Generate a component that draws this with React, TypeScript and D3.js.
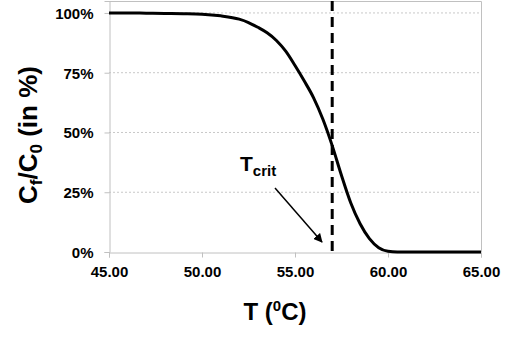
import { useEffect, useRef } from 'react';
import * as d3 from 'd3';

// temperature (°C) and remaining fraction Cf/C0 (%)
const temps = [45, 46, 47, 48, 49, 50, 51, 52, 52.5, 53, 53.5, 54, 54.5, 55, 55.5, 56, 56.5, 57, 57.5, 58, 58.5, 59, 59.5, 60, 60.5, 61, 62, 63, 64, 65];
const ratios = [100, 100, 99.9, 99.8, 99.7, 99.5, 98.8, 97.4, 96, 94, 91.7, 88.5, 84, 78, 71.5, 64.5, 55.5, 44.5, 32, 20.5, 11.8, 5.6, 1.8, 0.3, 0, 0, 0, 0, 0, 0];
const xTicks = [45, 50, 55, 60, 65];
const yTicks = [0, 25, 50, 75, 100];
const tCrit = 57;

const FONT = "'Liberation Sans', Arial, sans-serif";

const App: any = () => {
  const svgRef = useRef<any>(null);

  useEffect(() => {
    const svg = d3.select(svgRef.current);
    svg.selectAll('*').remove();

    const left = 109, right = 481, top = 1, bottom = 252;

    const x = d3.scaleLinear().domain([45, 65]).range([left, right]);
    const y = d3.scaleLinear().domain([0, 105]).range([bottom, top]);

    // gridlines
    svg.append('g')
      .selectAll('line')
      .data(yTicks.filter(d => d > 0))
      .join('line')
      .attr('x1', left).attr('x2', right)
      .attr('y1', d => y(d)).attr('y2', d => y(d))
      .attr('stroke', '#c8c8c8')
      .attr('stroke-width', 1)
      .attr('stroke-dasharray', '2,2');

    // frame top/right
    svg.append('path')
      .attr('d', `M${left},${top + 0.5}H${right + 0.5}V${bottom}`)
      .attr('fill', 'none')
      .attr('stroke', '#c0c0c0');

    // axes
    const xAxis = svg.append('g')
      .attr('transform', `translate(0,${bottom + 0.5})`)
      .call(d3.axisBottom(x).tickValues(xTicks).tickSize(5).tickPadding(9).tickFormat(d3.format('.2f')));
    const yAxis = svg.append('g')
      .attr('transform', `translate(${left + 0.5},0)`)
      .call(d3.axisLeft(y).tickValues(yTicks).tickSize(5).tickPadding(11).tickFormat((d: any) => d + '%'));

    [xAxis, yAxis].forEach(a => {
      a.select('.domain').attr('stroke', '#c0c0c0');
      a.selectAll('.tick line').attr('stroke', '#c0c0c0');
      a.selectAll('text')
        .attr('font-family', FONT)
        .attr('font-weight', 'bold')
        .attr('font-size', 15)
        .attr('fill', '#000');
    });
    yAxis.selectAll('text').attr('dy', '0.36em');

    // critical temperature
    svg.append('line')
      .attr('x1', x(tCrit)).attr('x2', x(tCrit))
      .attr('y1', top).attr('y2', bottom)
      .attr('stroke', '#000')
      .attr('stroke-width', 3)
      .attr('stroke-dasharray', '10,6');

    // curve
    const line = d3.line<number>()
      .x((d, i) => x(temps[i]))
      .y(d => y(d))
      .curve(d3.curveMonotoneX);
    svg.append('path')
      .attr('d', line(ratios))
      .attr('fill', 'none')
      .attr('stroke', '#000')
      .attr('stroke-width', 3);

    // annotation
    const defs = svg.append('defs');
    defs.append('marker')
      .attr('id', 'arr')
      .attr('viewBox', '0 0 10 10')
      .attr('refX', 9).attr('refY', 5)
      .attr('markerWidth', 9).attr('markerHeight', 9)
      .attr('markerUnits', 'userSpaceOnUse')
      .attr('orient', 'auto')
      .append('path')
      .attr('d', 'M0,0L10,5L0,10Z')
      .attr('fill', '#000');
    svg.append('line')
      .attr('x1', 275).attr('y1', 188)
      .attr('x2', 322).attr('y2', 242)
      .attr('stroke', '#000')
      .attr('stroke-width', 1.5)
      .attr('marker-end', 'url(#arr)');
    const tc = svg.append('text')
      .attr('x', 240).attr('y', 171)
      .attr('font-family', FONT)
      .attr('font-weight', 'bold')
      .attr('font-size', 21);
    tc.append('tspan').text('T');
    tc.append('tspan').attr('font-size', 15).attr('dy', 5).text('crit');

    // axis titles
    const xt = svg.append('text')
      .attr('x', 275).attr('y', 320)
      .attr('text-anchor', 'middle')
      .attr('font-family', FONT)
      .attr('font-weight', 'bold')
      .attr('font-size', 24);
    xt.append('tspan').text('T (');
    xt.append('tspan').attr('font-size', 15).attr('dy', -9).text('0');
    xt.append('tspan').attr('dy', 9).text('C)');

    const yt = svg.append('text')
      .attr('transform', 'translate(37,135) rotate(-90)')
      .attr('text-anchor', 'middle')
      .attr('font-family', FONT)
      .attr('font-weight', 'bold')
      .attr('font-size', 26);
    yt.append('tspan').text('C');
    yt.append('tspan').attr('font-size', 17).attr('dy', 5).text('f');
    yt.append('tspan').attr('dy', -5).text('/C');
    yt.append('tspan').attr('font-size', 17).attr('dy', 5).text('0');
    yt.append('tspan').attr('dy', -5).text(' (in %)');
  }, []);

  return (
    <div style={{ position: 'absolute', left: 0, top: 0, background: '#fff' }}>
      <svg ref={svgRef} width={512} height={342} />
    </div>
  );
};

export default App;
